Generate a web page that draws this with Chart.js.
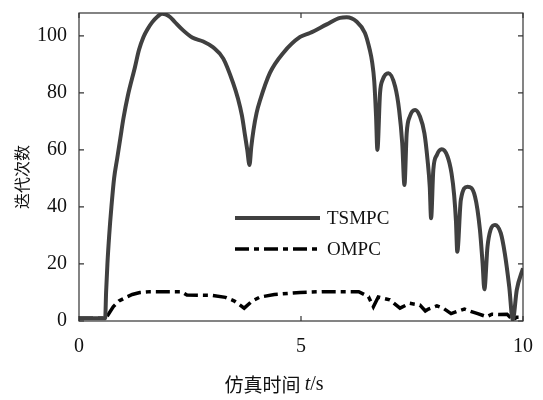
<!DOCTYPE html>
<html>
<head>
<meta charset="utf-8">
<script src="https://cdn.jsdelivr.net/npm/chart.js@4.4.1/dist/chart.umd.min.js"></script>
<style>
  body { margin: 0; background: #fff; }
</style>
</head>
<body>
<canvas id="myChart" width="543" height="400"></canvas>
<script>
// values: simulation time (s) vs iteration count
var tsmpcTime = [0, 0.3, 0.59, 0.61, 0.64, 0.68, 0.73, 0.79, 0.86, 0.93, 1.0, 1.1, 1.26, 1.35, 1.45, 1.55, 1.65, 1.77, 1.87, 1.95,
                 2.05, 2.15, 2.34, 2.55, 2.8, 3.02, 3.25, 3.47, 3.58, 3.67, 3.74, 3.79, 3.84, 3.88, 3.93, 4.0, 4.08, 4.3, 4.6,
                 4.98, 5.2, 5.58, 5.88, 6.03, 6.25, 6.44, 6.55, 6.6, 6.65, 6.69, 6.72, 6.78, 6.84, 6.97, 7.12,
                 7.21, 7.28, 7.33, 7.38, 7.45, 7.57, 7.68, 7.78, 7.85, 7.9, 7.93, 7.98, 8.06, 8.17, 8.30, 8.39,
                 8.45, 8.49, 8.52, 8.60, 8.75, 8.92, 9.03, 9.09, 9.13, 9.20, 9.27, 9.37, 9.50, 9.59, 9.69, 9.77,
                 9.86, 10];
var tsmpcIter = [1, 1, 1, 10, 20, 30, 40, 50, 57, 64, 71, 79, 89, 95, 99.5, 102.5, 104.8, 106.8, 107.7, 107.5,
                 106.6, 105, 102, 99.4, 98, 96, 92, 83.5, 78, 72, 65, 60, 54.7, 61, 67, 73, 77.5, 87, 94,
                 99.6, 101, 104, 106.3, 106.5, 105, 101, 95, 91, 84, 72, 60, 79.9, 84.6, 86.9, 82.2,
                 74, 62.3, 47.7, 65.8, 71.7, 74, 71.7, 65.8, 56.5, 47, 36, 53, 58.2, 60.2, 57.7, 51.8,
                 44, 35, 24.3, 42.5, 47.1, 43.6, 32, 20.2, 11.1, 26, 32, 33.7, 30.8, 23.7, 12, 0.3,
                 10.9, 18.5];

var ompcTime = [0, 0.59, 0.65, 0.77, 0.9, 1.07, 1.2, 1.37, 1.6, 2.3, 2.43, 3.0, 3.3, 3.5, 3.72, 3.9,
                4.08, 4.4, 4.98, 5.5, 6.3, 6.52, 6.63, 6.74, 7.0, 7.23, 7.45, 7.68, 7.8, 7.87, 8.06, 8.2,
                8.38, 8.52, 8.68, 8.82, 8.98, 9.18, 9.3, 9.45, 9.64, 9.77, 9.85, 10];
var ompcIter = [1, 1, 2, 5, 7, 8.4, 9.3, 10, 10.3, 10.3, 9.1, 9, 8.3, 7, 4.5, 7,
                8.4, 9.3, 10, 10.3, 10.3, 8.5, 5, 8.4, 7.4, 4.5, 6.2, 5.6, 3.5, 4.2, 5.3, 4.5,
                2.6, 3.4, 4.2, 3.4, 2.6, 1.5, 2.4, 2.3, 2.4, 0.3, 1.3, 1.3];

var seriesNames = ["TSMPC", "OMPC"];
var xTicks = [0, 5, 10];
var yTicks = [0, 20, 40, 60, 80, 100];
var xTitle = ["仿真时间 ", "t", "/s"];
var yTitle = "迭代次数";

var serif = "'Liberation Serif', 'Times New Roman', serif";
var cjk = "'Noto Sans CJK SC', sans-serif";

function points(xs, ys) {
  return xs.map(function(x, i){ return {x: x, y: ys[i]}; });
}

// frame, inward ticks, legend inside the plot and the axis titles
var decorations = {
  id: 'decorations',
  afterDraw: function(chart) {
    var ctx = chart.ctx, area = chart.chartArea;
    var xs = chart.scales.x, ys = chart.scales.y;
    ctx.save();

    ctx.strokeStyle = '#333';
    ctx.lineWidth = 1.2;
    ctx.strokeRect(area.left, area.top, area.right - area.left, area.bottom - area.top);

    ctx.beginPath();
    xTicks.forEach(function(v){
      var px = xs.getPixelForValue(v);
      ctx.moveTo(px, area.bottom); ctx.lineTo(px, area.bottom - 5);
      ctx.moveTo(px, area.top); ctx.lineTo(px, area.top + 5);
    });
    yTicks.forEach(function(v){
      var py = ys.getPixelForValue(v);
      ctx.moveTo(area.left, py); ctx.lineTo(area.left + 5, py);
      ctx.moveTo(area.right, py); ctx.lineTo(area.right - 5, py);
    });
    ctx.stroke();

    // legend
    var lx = area.left + 156, ly = area.top + 205;
    chart.data.datasets.forEach(function(ds, i){
      var y = ly + i * 31;
      ctx.beginPath();
      ctx.strokeStyle = ds.borderColor;
      ctx.lineWidth = ds.borderWidth;
      ctx.setLineDash(ds.borderDash || []);
      ctx.moveTo(lx, y);
      ctx.lineTo(lx + 85, y);
      ctx.stroke();
      ctx.setLineDash([]);
      ctx.fillStyle = '#111';
      ctx.font = '19px ' + serif;
      ctx.textAlign = 'left';
      ctx.textBaseline = 'middle';
      ctx.fillText(ds.label, lx + 92, y + 1);
    });

    // x title with italic t
    var fonts = ['19px ' + cjk, 'italic 20px ' + serif, '20px ' + serif];
    var widths = xTitle.map(function(s, i){ ctx.font = fonts[i]; return ctx.measureText(s).width; });
    var total = widths.reduce(function(a, b){ return a + b; });
    var x = 274 - total / 2;
    ctx.fillStyle = '#111';
    ctx.textAlign = 'left';
    ctx.textBaseline = 'middle';
    xTitle.forEach(function(s, i){
      ctx.font = fonts[i];
      ctx.fillText(s, x, 385);
      x += widths[i];
    });

    // y title
    ctx.translate(22, 177);
    ctx.rotate(-Math.PI / 2);
    ctx.textAlign = 'center';
    ctx.font = '16px ' + cjk;
    ctx.fillText(yTitle, 0, 0);

    ctx.restore();
  }
};

var ctx = document.getElementById("myChart").getContext("2d");
var myChart = new Chart(ctx, {
  type: 'line',
  data: {
    datasets: [
      {
        label: seriesNames[0],
        data: points(tsmpcTime, tsmpcIter),
        borderColor: '#404040',
        borderWidth: 4,
        pointRadius: 0,
        cubicInterpolationMode: 'monotone',
        fill: false
      },
      {
        label: seriesNames[1],
        data: points(ompcTime, ompcIter),
        borderColor: '#000',
        borderWidth: 3.5,
        borderDash: [14, 5, 5, 5],
        pointRadius: 0,
        tension: 0,
        fill: false
      }
    ]
  },
  options: {
    responsive: false,
    animation: false,
    layout: { padding: { top: 13, right: 20, left: 0, bottom: 0 } },
    plugins: { legend: { display: false }, tooltip: { enabled: false } },
    scales: {
      x: {
        type: 'linear',
        min: 0,
        max: 10,
        afterBuildTicks: function(s){ s.ticks = xTicks.map(function(v){ return {value: v}; }); },
        afterFit: function(s){ s.height = 79; s.paddingLeft = 0; s.paddingRight = 0; },
        grid: { display: false, drawTicks: false },
        border: { display: false },
        ticks: { font: { family: serif, size: 20 }, color: '#111', padding: 14, maxRotation: 0 }
      },
      y: {
        min: 0,
        max: 108,
        afterBuildTicks: function(s){ s.ticks = yTicks.map(function(v){ return {value: v}; }); },
        afterFit: function(s){ s.width = 79; s.paddingTop = 0; s.paddingBottom = 0; },
        grid: { display: false, drawTicks: false },
        border: { display: false },
        ticks: { font: { family: serif, size: 20 }, color: '#111', padding: 12 }
      }
    }
  },
  plugins: [decorations]
});
</script>
</body>
</html>
